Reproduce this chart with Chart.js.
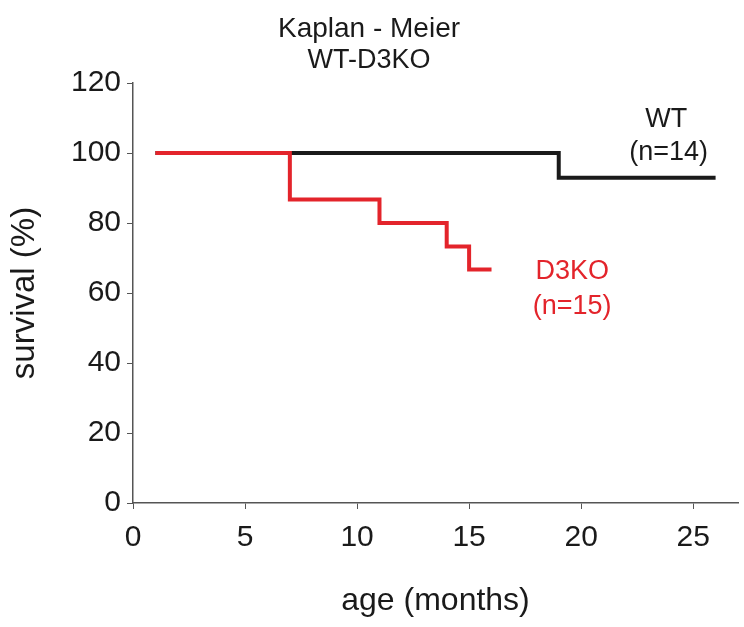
<!DOCTYPE html>
<html>
<head>
<meta charset="utf-8">
<script src="https://cdn.jsdelivr.net/npm/chart.js@4/dist/chart.umd.min.js"></script>
<style>
  html, body { margin: 0; padding: 0; background: #fff; }
  #wrap { width: 744px; height: 627px; }
</style>
</head>
<body>
<div id="wrap"><canvas id="myChart" width="744" height="627"></canvas></div>
<script>
// Kaplan-Meier steps (age in months, survival %)
let koMonths = [1, 7, 11, 14, 15, 16];
let koSurvival = [100, 86.7, 80, 73.3, 66.7, 66.7];
let wtMonths = [1, 19, 26];
let wtSurvival = [100, 92.9, 92.9];

let xTicks = [0, 5, 10, 15, 20, 25];
let yTicks = [0, 20, 40, 60, 80, 100, 120];

// labels next to the curves: [text, x, y, colour]
let curveLabels = [
    ['WT', 23.8, 109.7, '#1a1a1a'],
    ['(n=14)', 23.9, 100, '#1a1a1a'],
    ['D3KO', 19.6, 66, '#e3242b'],
    ['(n=15)', 19.6, 56, '#e3242b']
];

function toPoints(xs, ys) {
    return xs.map((x, i) => ({ x: x, y: ys[i] }));
}

const FONT = "'Liberation Sans', Arial, sans-serif";

const labelPlugin = {
    id: 'curveLabels',
    afterDatasetsDraw(chart) {
        const ctx = chart.ctx;
        const xs = chart.scales.x, ys = chart.scales.y;
        ctx.save();
        ctx.font = '27px ' + FONT;
        ctx.textAlign = 'center';
        ctx.textBaseline = 'middle';
        curveLabels.forEach(l => {
            ctx.fillStyle = l[3];
            ctx.fillText(l[0], xs.getPixelForValue(l[1]), ys.getPixelForValue(l[2]));
        });
        ctx.restore();
    }
};

var ctx = document.getElementById('myChart').getContext('2d');
var chart = new Chart(ctx, {
    type: 'line',
    data: {
        datasets: [{
            label: 'D3KO',
            data: toPoints(koMonths, koSurvival),
            borderColor: '#e3242b',
            borderWidth: 4,
            stepped: true,
            pointRadius: 0,
            fill: false
        }, {
            label: 'WT',
            data: toPoints(wtMonths, wtSurvival),
            borderColor: '#1a1a1a',
            borderWidth: 4,
            stepped: true,
            pointRadius: 0,
            fill: false
        }]
    },
    options: {
        responsive: false,
        animation: false,
        layout: { padding: { left: 0, right: 6, top: 0, bottom: 0 } },
        plugins: {
            legend: { display: false },
            tooltip: { enabled: false },
            title: {
                display: true,
                text: 'Kaplan - Meier',
                color: '#1a1a1a',
                font: { family: FONT, size: 28, weight: 'normal', lineHeight: 1 },
                padding: { top: 15, bottom: 0 }
            },
            subtitle: {
                display: true,
                text: 'WT-D3KO',
                color: '#1a1a1a',
                font: { family: FONT, size: 27, weight: 'normal', lineHeight: 1 },
                padding: { top: 4, bottom: 9 }
            }
        },
        scales: {
            x: {
                type: 'linear',
                min: 0,
                max: 27,
                afterBuildTicks(scale) { scale.ticks = xTicks.map(v => ({ value: v })); },
                afterFit(scale) { scale.height = 124; },
                grid: { display: true, drawOnChartArea: false, drawTicks: true, tickLength: 6, color: '#555' },
                border: { display: true, color: '#555', width: 1.5 },
                ticks: { color: '#1a1a1a', font: { family: FONT, size: 30 }, padding: 11, maxRotation: 0 },
                title: { display: true, text: 'age (months)', color: '#1a1a1a', font: { family: FONT, size: 32 }, padding: { bottom: 7 } }
            },
            y: {
                min: 0,
                max: 120,
                afterBuildTicks(scale) { scale.ticks = yTicks.map(v => ({ value: v })); },
                afterFit(scale) { scale.width = 133; },
                grid: { display: true, drawOnChartArea: false, drawTicks: true, tickLength: 6, color: '#555' },
                border: { display: true, color: '#555', width: 1.5 },
                ticks: { color: '#1a1a1a', font: { family: FONT, size: 30 }, padding: 6 },
                title: { display: true, text: 'survival (%)', color: '#1a1a1a', font: { family: FONT, size: 33 }, padding: { top: 5 } }
            }
        }
    },
    plugins: [labelPlugin]
});
</script>
</body>
</html>
